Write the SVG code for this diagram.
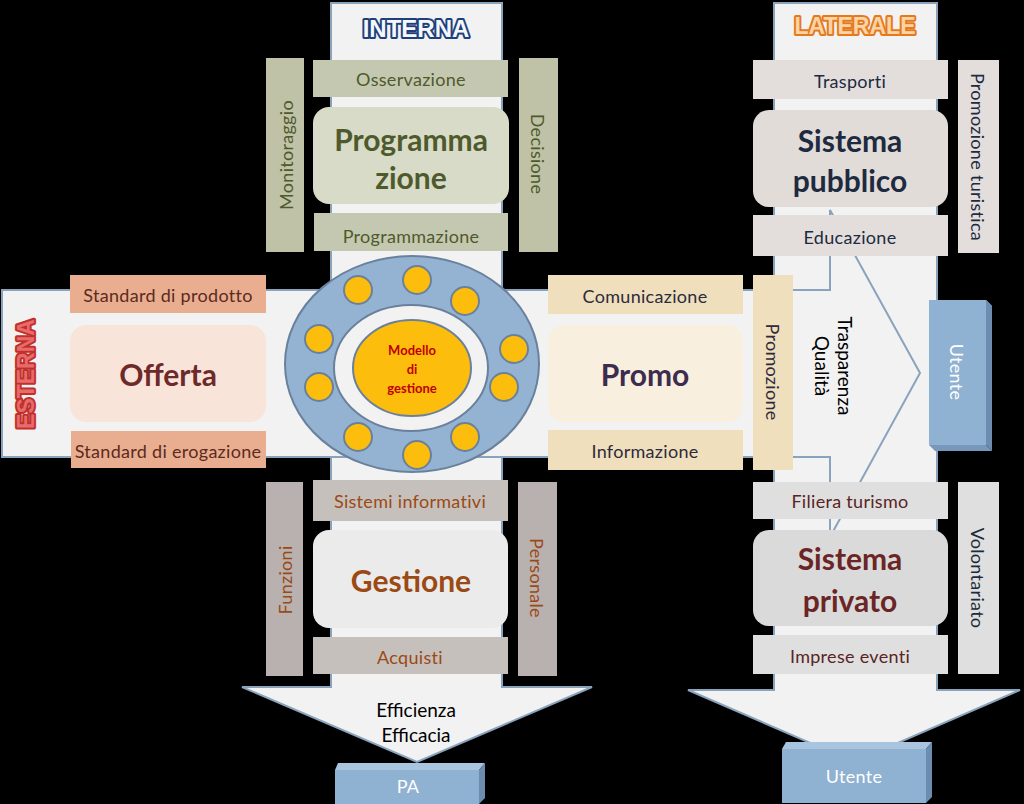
<svg xmlns="http://www.w3.org/2000/svg" width="1024" height="804" viewBox="0 0 1024 804">
<style>
.bar{fill:#f2f2f2;stroke:#8aa3bd;stroke-width:2}
.lbl{font-family:Lato,"Liberation Sans",sans-serif;font-size:18px;text-anchor:middle;dominant-baseline:central;letter-spacing:0.3px}
.ttl{font-family:Lato,"Liberation Sans",sans-serif;font-weight:bold;font-size:30px;text-anchor:middle;dominant-baseline:central}
.cal{font-family:Lato,"Open Sans","Liberation Sans",sans-serif;font-size:19px;text-anchor:middle;dominant-baseline:central}
.head{font-family:"Liberation Sans",Arial,sans-serif;font-weight:bold;text-anchor:middle;dominant-baseline:central;stroke-width:4;paint-order:stroke;stroke-linejoin:round}
.prog-s{fill:#c5c8b0}.prog-v{fill:#bfc2a6}.prog-b{fill:#d7dbc8}.prog-t{fill:#4e5a2c}
.off-s{fill:#e9ae8f}.off-b{fill:#f9e4d9}.off-t{fill:#5c2a1f}
.pro-s{fill:#efdfbc}.pro-b{fill:#f8efdf}.pro-t{fill:#2e2a3c}
.pub-s{fill:#e3dedb}.pub-b{fill:#e1dcd8}.pub-t{fill:#1d2a40}
.pri-s{fill:#dfdfdf}.pri-b{fill:#dadada}.pri-t{fill:#6b2525}
.ges-s{fill:#c6c0bd}.ges-v{fill:#b9b1af}.ges-b{fill:#ebebeb}.ges-t{fill:#9a4a14}
.ute-f{fill:#8fb1d2}.ute-s{fill:#6d8db0}.ute-t{fill:#a9c4de}
</style>
<rect width="1024" height="804" fill="#000"/>
<g id="connectors">
  <polygon class="bar" points="774,3 937,3 937,690 1020,690 854,762 688,690 774,690"/>
  <polygon class="bar" points="331,3 502,3 502,687 592,687 417,762 242,687 331,687"/>
  <polygon class="bar" points="2,290 830,290 830,210 920,373 830,537 830,457 2,457"/>
  <rect x="332" y="291" width="169" height="165" fill="#f2f2f2"/>
</g>
<g id="labels-axes">
  <text class="head" x="416" y="28" font-size="24" fill="#f4f8fc" stroke="#1f3f7a">INTERNA</text>
  <text class="head" x="855" y="26" font-size="23" fill="#fbd3a6" stroke="#e47a1c">LATERALE</text>
  <text class="head" transform="translate(26,374) rotate(-90)" font-size="23" fill="#e86a6a" stroke="#c0302a">ESTERNA</text>
</g>
<g id="programmazione">
  <rect class="prog-v" x="266" y="58" width="38" height="194"/>
  <rect class="prog-v" x="519" y="58" width="39" height="194"/>
  <rect class="prog-s" x="313" y="60" width="195" height="37"/>
  <rect class="prog-b" x="313" y="107" width="196" height="97" rx="16"/>
  <rect class="prog-s" x="314" y="213" width="194" height="38"/>
  <text class="lbl prog-t" x="411" y="79" font-size="19">Osservazione</text>
  <text class="ttl prog-t" x="411" y="139" font-size="28">Programma</text>
  <text class="ttl prog-t" x="411" y="177" font-size="28">zione</text>
  <text class="lbl prog-t" x="411" y="236" font-size="20">Programmazione</text>
  <text class="lbl prog-t" transform="translate(286,155) rotate(-90)" font-size="20">Monitoraggio</text>
  <text class="lbl prog-t" transform="translate(538,154) rotate(90)" font-size="19">Decisione</text>
</g>
<g id="offerta">
  <rect class="off-s" x="70" y="275" width="196" height="38"/>
  <rect class="off-b" x="70" y="325" width="196" height="97" rx="16"/>
  <rect class="off-s" x="71" y="431" width="195" height="37"/>
  <text class="lbl off-t" x="168" y="295">Standard di prodotto</text>
  <text class="ttl" x="168" y="374" fill="#6e2a2a">Offerta</text>
  <text class="lbl off-t" x="168" y="451" font-size="15">Standard di erogazione</text>
</g>
<g id="promo">
  <rect class="pro-s" x="548" y="275" width="195" height="39"/>
  <rect class="pro-b" x="548" y="325" width="195" height="97" rx="16"/>
  <rect class="pro-s" x="548" y="430" width="195" height="40"/>
  <rect class="pro-s" x="753" y="275" width="40" height="195"/>
  <text class="lbl pro-t" x="645" y="296" font-size="20">Comunicazione</text>
  <text class="ttl" x="645" y="374" fill="#3d2c4e" font-size="29">Promo</text>
  <text class="lbl pro-t" x="645" y="451" font-size="20">Informazione</text>
  <text class="lbl pro-t" transform="translate(773,372) rotate(90)" font-size="21">Promozione</text>
</g>
<g id="trasparenza">
  <text class="cal" transform="translate(834,366) rotate(90)"><tspan x="0" y="-11.5">Trasparenza</tspan><tspan x="0" y="11.5">Qualità</tspan></text>
</g>
<g id="modello">
  <ellipse cx="412" cy="364" rx="127" ry="108" fill="#94b3d3" stroke="#6a819c" stroke-width="2"/>
  <ellipse cx="411" cy="368" rx="77" ry="63" fill="#f2f2f2" stroke="#6a819c" stroke-width="2"/>
  <ellipse cx="412" cy="368" rx="59" ry="48" fill="#fdbd0d" stroke="#6a819c" stroke-width="2"/>
  <g fill="#fdbd0d" stroke="#6a819c" stroke-width="2">
    <circle cx="358" cy="290" r="14"/><circle cx="417" cy="280" r="14"/><circle cx="465" cy="301" r="14"/>
    <circle cx="319" cy="339" r="14"/><circle cx="514" cy="349" r="14"/><circle cx="319" cy="387" r="14"/>
    <circle cx="504" cy="387" r="14"/><circle cx="358" cy="437" r="14"/><circle cx="465" cy="437" r="14"/>
    <circle cx="417" cy="455" r="14"/>
  </g>
  <text font-family="Lato,'Liberation Sans',sans-serif" font-weight="bold" font-size="13" fill="#c00000" text-anchor="middle"><tspan x="412" y="355">Modello</tspan><tspan x="412" y="374">di</tspan><tspan x="412" y="393">gestione</tspan></text>
</g>
<g id="sistema-pubblico">
  <rect class="pub-s" x="753" y="60" width="195" height="39"/>
  <rect class="pub-b" x="753" y="110" width="195" height="97" rx="16"/>
  <rect class="pub-s" x="753" y="215" width="195" height="41"/>
  <rect class="pub-s" x="958" y="60" width="41" height="193"/>
  <text class="lbl pub-t" x="850" y="81" font-size="16">Trasporti</text>
  <text class="ttl pub-t" x="850" y="140">Sistema</text>
  <text class="ttl pub-t" x="850" y="180">pubblico</text>
  <text class="lbl pub-t" x="850" y="237" font-size="14">Educazione</text>
  <text class="lbl pub-t" transform="translate(978,157) rotate(90)" font-size="13">Promozione turistica</text>
</g>
<g id="sistema-privato">
  <rect class="pri-s" x="753" y="482" width="195" height="37"/>
  <rect class="pri-b" x="753" y="530" width="195" height="96" rx="16"/>
  <rect class="pri-s" x="753" y="635" width="195" height="39"/>
  <rect class="pri-s" x="958" y="482" width="41" height="192"/>
  <text class="lbl" x="850" y="501" font-size="15" fill="#5a2424">Filiera turismo</text>
  <text class="ttl pri-t" x="850" y="558">Sistema</text>
  <text class="ttl pri-t" x="850" y="600">privato</text>
  <text class="lbl" x="850" y="656" font-size="13" fill="#5a2424">Imprese eventi</text>
  <text class="lbl" transform="translate(978,578) rotate(90)" font-size="14" fill="#1d2a3a">Volontariato</text>
</g>
<g id="gestione">
  <rect class="ges-v" x="266" y="482" width="37" height="194"/>
  <rect class="ges-v" x="518" y="482" width="39" height="194"/>
  <rect class="ges-s" x="313" y="480" width="195" height="41"/>
  <rect class="ges-b" x="313" y="530" width="195" height="98" rx="16"/>
  <rect class="ges-s" x="313" y="637" width="195" height="37"/>
  <text class="lbl ges-t" x="410" y="501" font-size="19">Sistemi informativi</text>
  <text class="ttl ges-t" x="411" y="580">Gestione</text>
  <text class="lbl ges-t" x="410" y="657" font-size="19">Acquisti</text>
  <text class="lbl ges-t" transform="translate(285,580) rotate(-90)" font-size="18">Funzioni</text>
  <text class="lbl ges-t" transform="translate(537,578) rotate(90)" font-size="19">Personale</text>
</g>
<g id="efficienza">
  <text class="cal" x="416" y="709">Efficienza</text>
  <text class="cal" x="416" y="734">Efficacia</text>
</g>
<g id="utente-right">
  <polygon class="ute-t" points="929,300 986,300 992,306 935,306"/>
  <polygon class="ute-s" points="986,300 992,306 992,451 986,445"/>
  <rect class="ute-f" x="929" y="300" width="57" height="145"/>
  <polygon points="929,445 986,445 992,451 935,451" fill="#7898bb"/>
  <text class="lbl" transform="translate(957,372) rotate(90)" font-size="16" fill="#fff">Utente</text>
</g>
<g id="utente-bottom">
  <polygon class="ute-t" points="786,742 932,742 926,749 782,749"/>
  <polygon class="ute-s" points="926,749 932,742 932,797 926,803"/>
  <rect class="ute-f" x="782" y="749" width="144" height="54"/>
  <text class="lbl" x="854" y="776" font-size="17" fill="#fff">Utente</text>
</g>
<g id="pa">
  <polygon class="ute-t" points="338,763 485,763 479,770 335,770"/>
  <polygon class="ute-s" points="479,770 485,763 485,798 479,804"/>
  <rect class="ute-f" x="335" y="770" width="144" height="34"/>
  <text class="lbl" x="408" y="786" font-size="16" fill="#fff">PA</text>
</g>
</svg>
